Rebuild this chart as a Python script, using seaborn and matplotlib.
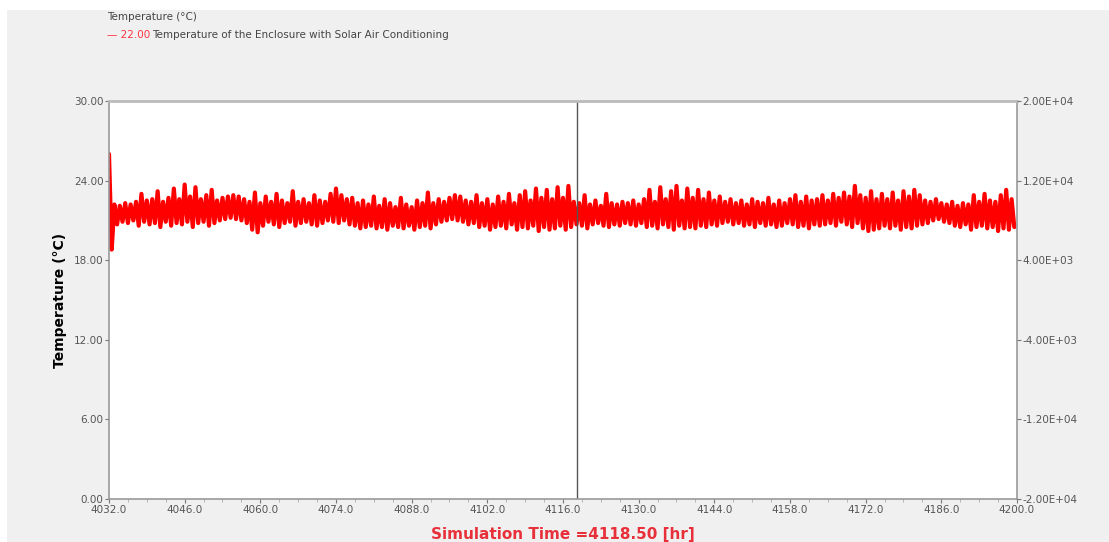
import matplotlib
matplotlib.use("Agg")

import numpy as np
import pandas as pd
import seaborn as sns
import matplotlib.pyplot as plt
from matplotlib.patches import Rectangle
from matplotlib.ticker import FormatStrFormatter, MultipleLocator

# Hourly upper / lower swing of the enclosure temperature
hours = list(range(4032, 4200))
temp_high = [
    26.0, 22.2, 22.1, 22.3, 22.2, 22.4, 23.0, 22.5, 22.6, 23.2, 22.4, 22.7,
    23.4, 22.6, 23.7, 22.8, 23.5, 22.6, 22.9, 23.3, 22.5, 22.7, 22.8, 22.9,
    22.8, 22.6, 22.4, 23.1, 22.3, 22.8, 22.4, 23.0, 22.5, 22.3, 23.2, 22.4,
    22.6, 22.3, 22.9, 22.5, 22.4, 23.0, 23.4, 22.9, 22.6, 22.7, 22.3, 22.5,
    22.2, 22.8, 22.1, 22.6, 22.3, 22.0, 22.7, 22.2, 22.0, 22.5, 22.3, 23.1,
    22.3, 22.6, 22.4, 22.7, 22.9, 22.8, 22.5, 22.4, 22.9, 22.3, 22.6, 22.2,
    22.8, 22.4, 23.0, 22.3, 22.9, 23.2, 22.5, 23.4, 22.7, 23.3, 22.6, 23.5,
    22.7, 23.6, 22.4, 22.3, 22.9, 22.2, 22.5, 22.1, 23.0, 22.3, 22.2, 22.4,
    22.3, 22.5, 22.2, 22.6, 23.3, 22.4, 23.5, 22.6, 23.2, 23.6, 22.5, 23.4,
    22.7, 23.3, 22.6, 23.1, 22.5, 22.8, 22.4, 22.6, 22.3, 22.5, 22.2, 22.6,
    22.4, 22.3, 22.7, 22.2, 22.5, 22.3, 22.6, 22.9, 22.4, 22.8, 22.5, 22.6,
    22.9, 22.5, 23.0, 22.7, 23.1, 22.8, 23.6, 22.9, 22.7, 23.2, 22.6, 23.0,
    22.6, 23.1, 22.5, 23.2, 22.8, 23.3, 22.9, 22.5, 22.4, 22.6, 22.3, 22.2,
    22.4, 22.1, 22.3, 22.2, 22.9, 22.4, 23.0, 22.5, 22.4, 22.9, 23.3, 22.6,
]
temp_low = [
    18.8, 20.7, 20.9, 20.8, 21.0, 20.6, 20.9, 20.7, 20.8, 20.5, 20.9, 20.6,
    20.8, 20.7, 20.9, 20.5, 20.8, 20.9, 20.6, 20.8, 21.0, 21.1, 21.2, 21.1,
    21.0, 20.8, 20.3, 20.1, 20.6, 20.9, 20.7, 20.5, 20.8, 20.9, 20.6, 20.8,
    20.9, 20.7, 20.6, 20.8, 21.0, 20.9, 20.8, 21.0, 20.7, 20.6, 20.4, 20.5,
    20.6, 20.4, 20.5, 20.3, 20.6, 20.5, 20.4, 20.6, 20.3, 20.5, 20.6, 20.4,
    20.7, 20.9, 21.0, 21.1, 21.0, 20.9, 20.7, 20.8, 20.5, 20.6, 20.3, 20.5,
    20.6, 20.4, 20.7, 20.3, 20.5, 20.4, 20.6, 20.2, 20.5, 20.3, 20.4, 20.6,
    20.3, 20.5, 20.7, 20.6, 20.4, 20.7, 20.8, 20.6, 20.5, 20.7, 20.6, 20.8,
    20.7, 20.6, 20.8, 20.5, 20.6, 20.4, 20.7, 20.5, 20.3, 20.6, 20.4, 20.5,
    20.4, 20.6, 20.5, 20.7, 20.6, 20.8, 20.9, 20.7, 20.8, 20.6, 20.7, 20.5,
    20.8, 20.6, 20.7, 20.5, 20.6, 20.8, 20.7, 20.5, 20.6, 20.4, 20.7, 20.6,
    20.7, 20.8, 20.6, 20.9, 20.7, 20.5, 20.8, 20.4, 20.2, 20.3, 20.4, 20.6,
    20.4, 20.6, 20.3, 20.5, 20.4, 20.6, 20.7, 20.8, 21.0, 21.1, 20.9, 20.8,
    20.6, 20.5, 20.7, 20.3, 20.5, 20.6, 20.4, 20.5, 20.2, 20.4, 20.3, 20.5,
]
x_ticks = [4032, 4046, 4060, 4074, 4088, 4102, 4116, 4130, 4144, 4158, 4172, 4186, 4200]
cursor_time = 4118.5

# high at the full hour, low at the half hour -> the dense oscillation band
rows = []
for h, hi, lo in zip(hours, temp_high, temp_low):
    rows.append((h, hi))
    rows.append((h + 0.5, lo))
df = pd.DataFrame(rows, columns=["time", "temp"])

sns.set_style("white")
plt.rcParams["font.family"] = ["DejaVu Sans"]

fig = plt.figure(figsize=(11.09, 5.42), dpi=100)
fig.patch.set_facecolor("white")
fig.patches.append(Rectangle((7 / 1109, 0), 1, 532 / 542, transform=fig.transFigure,
                             facecolor="#f0f0f0", edgecolor="none", zorder=-10))

ax = fig.add_axes([109 / 1109, 1 - 499 / 542, 908 / 1109, 398 / 542])
ax.set_facecolor("white")

sns.lineplot(data=df, x="time", y="temp", ax=ax, color="#ff0000",
             linewidth=3.0, estimator=None, sort=False)
ax.axvline(cursor_time, color="#555555", linewidth=1)

ax.set_xlim(4032, 4200)
ax.set_ylim(0, 30)
ax.set_xticks(x_ticks)
ax.xaxis.set_minor_locator(MultipleLocator(3.5))
ax.set_yticks([0, 6, 12, 18, 24, 30])
ax.xaxis.set_major_formatter(FormatStrFormatter("%.1f"))
ax.yaxis.set_major_formatter(FormatStrFormatter("%.2f"))
ax.tick_params(axis="both", labelsize=7.5, colors="#777777", length=3, direction="out",
               bottom=True, left=True)
ax.tick_params(axis="x", which="minor", length=2, colors="#aaaaaa", bottom=True)
ax.tick_params(axis="x", pad=1)
ax.tick_params(axis="y", pad=1)
for lab in ax.get_xticklabels() + ax.get_yticklabels():
    lab.set_color("#555555")
for side in ["left", "right", "bottom"]:
    ax.spines[side].set_color("#999999")
    ax.spines[side].set_linewidth(1.2)
ax.spines["top"].set_color("#bbbbbb")
ax.spines["top"].set_linewidth(2)

ax.set_ylabel("Temperature (°C)", fontsize=10, fontweight="bold", color="black", labelpad=5)
ax.set_xlabel("Simulation Time =4118.50 [hr]", fontsize=11, fontweight="bold",
              color="#e8303a", labelpad=9)

ax2 = ax.twinx()
ax2.set_ylim(-2e4, 2e4)
ax2.set_yticks([-2e4, -1.2e4, -4e3, 4e3, 1.2e4, 2e4])
ax2.yaxis.set_major_formatter(FormatStrFormatter("%.2E"))
ax2.tick_params(axis="y", labelsize=7.5, colors="#777777", length=3, right=True, pad=1)
for lab in ax2.get_yticklabels():
    lab.set_color("#555555")
for side in ["left", "right", "bottom", "top"]:
    ax2.spines[side].set_visible(False)

# legend header as plain text at the top
fig.text(107 / 1109, 1 - 17 / 542, "Temperature (°C)", fontsize=7.5, color="#444444", va="center")
fig.text(107 / 1109, 1 - 35 / 542, "\u2014 22.00", fontsize=7.5, color="#ff3344", va="center")
fig.text(152 / 1109, 1 - 35 / 542, "Temperature of the Enclosure with Solar Air Conditioning",
         fontsize=7.5, color="#444444", va="center")

plt.savefig("out.png", dpi=100)
plt.close()
